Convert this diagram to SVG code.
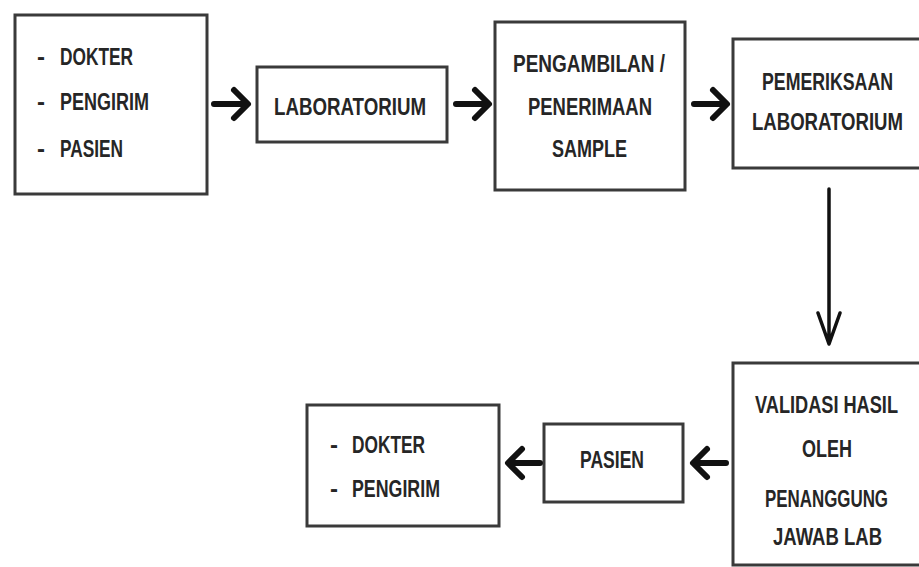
<svg xmlns="http://www.w3.org/2000/svg" width="919" height="567" viewBox="0 0 919 567">
<defs>
<style>
.box{fill:#fff;stroke:#3a3a3a;stroke-width:3}
.t{font-family:"Liberation Sans",Arial,sans-serif;font-size:24px;font-weight:bold;fill:#262626}
.arr{fill:none;stroke:#111;stroke-width:6;stroke-linecap:round;stroke-linejoin:round}
.varr{fill:none;stroke:#111;stroke-width:3.5;stroke-linecap:round;stroke-linejoin:round}
</style>
</defs>
<rect width="919" height="567" fill="#fff"/>
<g id="node-sender">
<rect class="box" x="15" y="15" width="192" height="179"/>
<text class="t" x="37" y="65">-</text>
<text class="t" x="60" y="65" textLength="73" lengthAdjust="spacingAndGlyphs">DOKTER</text>
<text class="t" x="37" y="110">-</text>
<text class="t" x="60" y="110" textLength="89" lengthAdjust="spacingAndGlyphs">PENGIRIM</text>
<text class="t" x="37" y="157">-</text>
<text class="t" x="60" y="157" textLength="63" lengthAdjust="spacingAndGlyphs">PASIEN</text>
</g>
<g id="node-lab">
<rect class="box" x="257" y="67" width="190" height="75"/>
<text class="t" x="274" y="115" textLength="152" lengthAdjust="spacingAndGlyphs">LABORATORIUM</text>
</g>
<g id="node-sample">
<rect class="box" x="495" y="22" width="190" height="168"/>
<text class="t" x="513" y="72" textLength="152" lengthAdjust="spacingAndGlyphs">PENGAMBILAN /</text>
<text class="t" x="528" y="115" textLength="124" lengthAdjust="spacingAndGlyphs">PENERIMAAN</text>
<text class="t" x="552" y="157" textLength="75" lengthAdjust="spacingAndGlyphs">SAMPLE</text>
</g>
<g id="node-exam">
<path class="box" d="M919,39 H733 V168 H919"/>
<g transform="scale(0.8,1)">
<text class="t" x="952.5" y="90" textLength="163.75" lengthAdjust="spacingAndGlyphs">PEMERIKSAAN</text>
<text class="t" x="940" y="130" textLength="188.75" lengthAdjust="spacingAndGlyphs">LABORATORIUM</text>
</g>
</g>
<g id="node-validation">
<path class="box" d="M919,363 H733 V565 H919"/>
<g transform="scale(0.8,1)">
<text class="t" x="943.75" y="413" textLength="178.75" lengthAdjust="spacingAndGlyphs">VALIDASI HASIL</text>
<text class="t" x="1002.5" y="457" textLength="62.5" lengthAdjust="spacingAndGlyphs">OLEH</text>
<text class="t" x="956.25" y="507" textLength="153.75" lengthAdjust="spacingAndGlyphs">PENANGGUNG</text>
<text class="t" x="966.25" y="545" textLength="136.25" lengthAdjust="spacingAndGlyphs">JAWAB LAB</text>
</g>
</g>
<g id="node-patient">
<rect class="box" x="544" y="424" width="139" height="78"/>
<text class="t" x="580" y="468" textLength="64" lengthAdjust="spacingAndGlyphs">PASIEN</text>
</g>
<g id="node-receiver">
<rect class="box" x="307" y="405" width="192" height="121"/>
<text class="t" x="330" y="453">-</text>
<text class="t" x="352" y="453" textLength="73" lengthAdjust="spacingAndGlyphs">DOKTER</text>
<text class="t" x="330" y="497">-</text>
<text class="t" x="352" y="497" textLength="88" lengthAdjust="spacingAndGlyphs">PENGIRIM</text>
</g>
<g id="connectors">
<path class="arr" d="M214,104 H247 M234,90 L248,104 L234,118"/>
<path class="arr" d="M456,104 H488 M475,90 L489,104 L475,118"/>
<path class="arr" d="M694,104 H726 M713,90 L727,104 L713,118"/>
<path class="varr" d="M829,189 V343 M818,313 L829,344 L840,313"/>
<path class="arr" d="M726,463 H694 M707,449 L693,463 L707,477"/>
<path class="arr" d="M540,463 H509 M522,449 L508,463 L522,477"/>
</g>
</svg>
